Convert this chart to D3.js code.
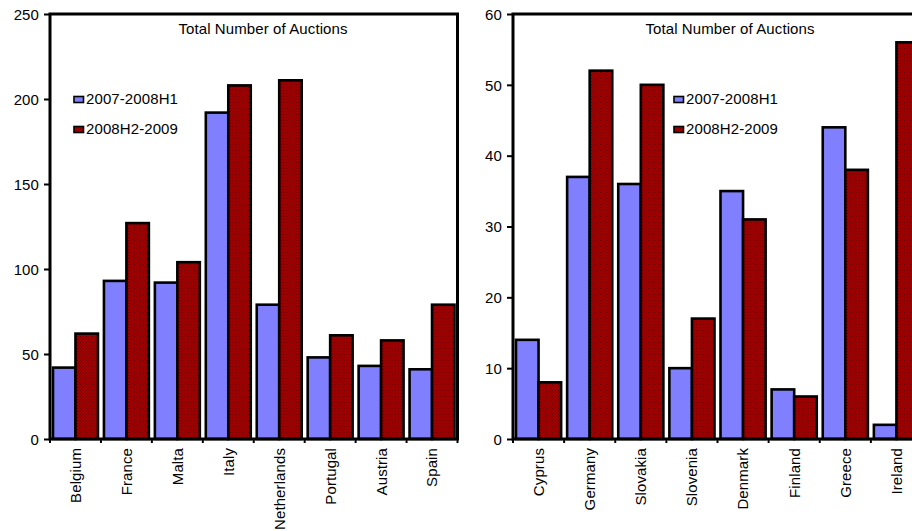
<!DOCTYPE html>
<html>
<head>
<meta charset="utf-8">
<script src="https://cdn.jsdelivr.net/npm/d3@7"></script>
<style>
  html, body { margin: 0; padding: 0; background: #fff; }
  svg { display: block; }
  text { font-family: "Liberation Sans", Arial, sans-serif; font-size: 15px; letter-spacing: 0.1px; fill: #000; }
</style>
</head>
<body>
<div id="chart"></div>
<script>
// ---- data ----
const seriesNames = ["2007-2008H1", "2008H2-2009"];
const chartTitle = "Total Number of Auctions";

const leftCategories = ["Belgium", "France", "Malta", "Italy", "Netherlands", "Portugal", "Austria", "Spain"];
const leftSeriesA = [42, 93, 92, 192, 79, 48, 43, 41];
const leftSeriesB = [62, 127, 104, 208, 211, 61, 58, 79];
const leftTicks = [0, 50, 100, 150, 200, 250];

const rightCategories = ["Cyprus", "Germany", "Slovakia", "Slovenia", "Denmark", "Finland", "Greece", "Ireland"];
const rightSeriesA = [14, 37, 36, 10, 35, 7, 44, 2];
const rightSeriesB = [8, 52, 50, 17, 31, 6, 38, 56];
const rightTicks = [0, 10, 20, 30, 40, 50, 60];

// ---- drawing ----
const W = 912, H = 531;
const svg = d3.select("#chart").append("svg").attr("width", W).attr("height", H);
svg.append("rect").attr("width", W).attr("height", H).attr("fill", "#fff");

const defs = svg.append("defs");
const pat = defs.append("pattern").attr("id", "hatch").attr("patternUnits", "userSpaceOnUse")
  .attr("width", 3).attr("height", 3);
pat.append("rect").attr("width", 3).attr("height", 3).attr("fill", "#a30000");
pat.append("rect").attr("x", 0).attr("y", 0).attr("width", 1).attr("height", 1).attr("fill", "#5e0000");
pat.append("rect").attr("x", 1.5).attr("y", 1.5).attr("width", 1).attr("height", 1).attr("fill", "#6e0000");

const colors = ["#8080ff", "url(#hatch)"];
const plotTop = 14, plotBottom = 439;

function panel(cfg) {
  const g = svg.append("g");
  const x0 = d3.scaleBand().domain(cfg.cats).range([cfg.left, cfg.right]).paddingInner(0).paddingOuter(0);
  const bw = x0.bandwidth();
  const x1 = d3.scaleBand().domain(seriesNames).range([3, bw - 3]).padding(0);
  const y = d3.scaleLinear().domain([0, cfg.ticks[cfg.ticks.length - 1]]).range([plotBottom, plotTop]);

  const rows = cfg.cats.map((c, i) => ({ cat: c, vals: [cfg.a[i], cfg.b[i]] }));
  const grp = g.selectAll("g.cat").data(rows).join("g").attr("class", "cat")
    .attr("transform", d => `translate(${x0(d.cat)},0)`);
  grp.selectAll("rect").data(d => d.vals.map((v, k) => ({ v, k })))
    .join("rect")
    .attr("x", d => x1(seriesNames[d.k]))
    .attr("y", d => y(d.v))
    .attr("width", x1.bandwidth())
    .attr("height", d => y(0) - y(d.v))
    .attr("fill", d => colors[d.k])
    .attr("stroke", "#000")
    .attr("stroke-width", 2.6);

  // frame
  g.append("rect").attr("x", cfg.left).attr("y", plotTop)
    .attr("width", cfg.right - cfg.left).attr("height", plotBottom - plotTop)
    .attr("fill", "none").attr("stroke", "#000").attr("stroke-width", 3);

  // y axis
  const yAxis = d3.axisLeft(y).tickValues(cfg.ticks).tickSize(6).tickPadding(5).tickFormat(d3.format("d"));
  const ya = g.append("g").attr("transform", `translate(${cfg.left},0)`).call(yAxis);
  ya.select(".domain").remove();
  ya.attr("font-size", null).attr("font-family", null);
  ya.selectAll(".tick line").attr("stroke", "#000").attr("stroke-width", 2);
  ya.selectAll(".tick text").attr("dy", "0.35em");

  // x axis: ticks at band boundaries, rotated labels
  const bounds = d3.range(cfg.cats.length + 1).map(i => cfg.left + i * bw);
  g.selectAll("line.xt").data(bounds).join("line").attr("class", "xt")
    .attr("x1", d => d).attr("x2", d => d).attr("y1", plotBottom).attr("y2", plotBottom + 4)
    .attr("stroke", "#000").attr("stroke-width", 2);
  g.selectAll("text.xl").data(cfg.cats).join("text").attr("class", "xl")
    .attr("transform", d => `translate(${x0(d) + bw / 2},${plotBottom + 9}) rotate(-90)`)
    .attr("text-anchor", "end").attr("dy", "0.36em")
    .text(d => d);

  // title
  g.append("text").attr("x", cfg.titleX).attr("y", 34).attr("text-anchor", "middle").text(chartTitle);

  // legend
  const lg = g.append("g").attr("transform", `translate(${cfg.legX},${cfg.legY})`);
  seriesNames.forEach((s, k) => {
    lg.append("rect").attr("x", 0).attr("y", k * 30 - 7.5).attr("width", 9.5).attr("height", 6)
      .attr("fill", colors[k]).attr("stroke", "#000").attr("stroke-width", 1.6);
    lg.append("text").attr("x", 12).attr("y", k * 30).text(s);
  });
}

panel({ cats: leftCategories, a: leftSeriesA, b: leftSeriesB, ticks: leftTicks,
  left: 50, right: 457.5, titleX: 263, legX: 74, legY: 104 });
panel({ cats: rightCategories, a: rightSeriesA, b: rightSeriesB, ticks: rightTicks,
  left: 513, right: 922, titleX: 730, legX: 674, legY: 104 });
</script>
</body>
</html>
